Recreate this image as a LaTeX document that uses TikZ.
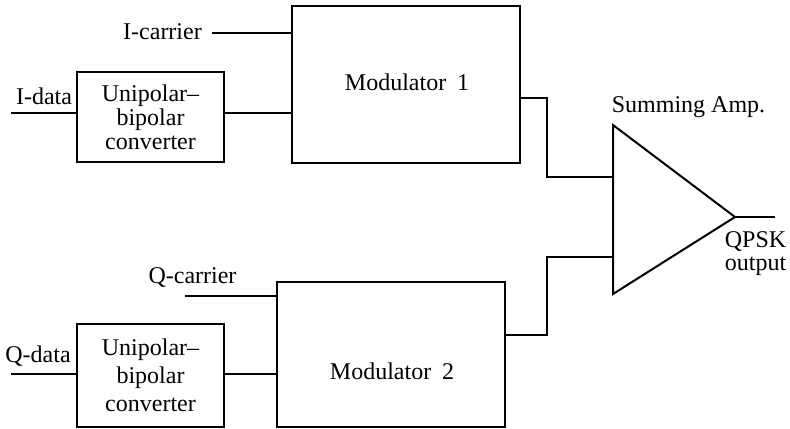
\documentclass[tikz,border=0pt]{standalone}
\usepackage{fontspec}
\setmainfont{Liberation Serif}
\begin{document}
\begin{tikzpicture}[x=0.5pt,y=-0.5pt,line width=1pt,
  box/.style={draw,inner sep=0pt,align=center,font=\fontsize{12}{12}\selectfont},
  lbl/.style={inner sep=0pt,anchor=base,font=\fontsize{12}{12}\selectfont}]
\useasboundingbox (0,0) rectangle (790,428);
% boxes
\node[box,minimum width=114pt,minimum height=78.5pt] (mod1) at (406,84.5) {};
\node[box,minimum width=73.5pt,minimum height=45pt] (conv1) at (150.5,117) {Unipolar--\\bipolar\\converter};
\node[box,minimum width=114pt,minimum height=72.5pt] (mod2) at (390.5,354.5) {};
\node[box,minimum width=73.5pt,minimum height=51.5pt,font=\fontsize{12}{14}\selectfont] (conv2) at (150.5,375.5) {Unipolar--\\bipolar\\converter};
\node[lbl] (mod1txt) at (407,90) {Modulator\hspace{0.45em}1};
\node[lbl] (mod2txt) at (392,379) {Modulator\hspace{0.45em}2};
% summing amplifier
\coordinate (amptop) at (613,125);
\coordinate (ampbot) at (613,294);
\coordinate (amptip) at (735,217);
\draw[line join=miter] (amptop) -- (amptip) -- (ampbot) -- cycle;
% labels
\node[lbl] (icartxt) at (162.5,39) {I-carrier};
\node[lbl] (idatatxt) at (44,104) {I-data};
\node[lbl] (qcartxt) at (192.5,283) {Q-carrier};
\node[lbl] (qdatatxt) at (38,362) {Q-data};
\node[lbl] (amptxt) at (688.5,112) {Summing Amp.};
\node[lbl] (qpsktxt) at (755.5,247) {QPSK};
\node[lbl] (outtxt) at (755.5,270) {output};
% connector ends
\coordinate (idata) at (11,113);
\coordinate (icar) at (212,33);
\coordinate (qdata) at (11,374);
\coordinate (qcar) at (185,296);
\coordinate (out) at (775,217);
\coordinate (in1) at (613,177);
\coordinate (in2) at (613,257);
\coordinate (jx) at (547,0);
\coordinate (o1) at (0,98);
\coordinate (o2) at (0,335);
% connectors
\draw (idata) -- (idata -| conv1.west);
\draw (conv1.east |- idata) -- (mod1.west |- idata);
\draw (icar) -- (icar -| mod1.west);
\draw (mod1.east |- o1) -- (jx |- o1) -- (jx |- in1) -- (in1);
\draw (mod2.east |- o2) -- (jx |- o2) -- (jx |- in2) -- (in2);
\draw (amptip) -- (out);
\draw (qcar) -- (qcar -| mod2.west);
\draw (qdata) -- (qdata -| conv2.west);
\draw (conv2.east |- qdata) -- (mod2.west |- qdata);
\end{tikzpicture}
\end{document}
